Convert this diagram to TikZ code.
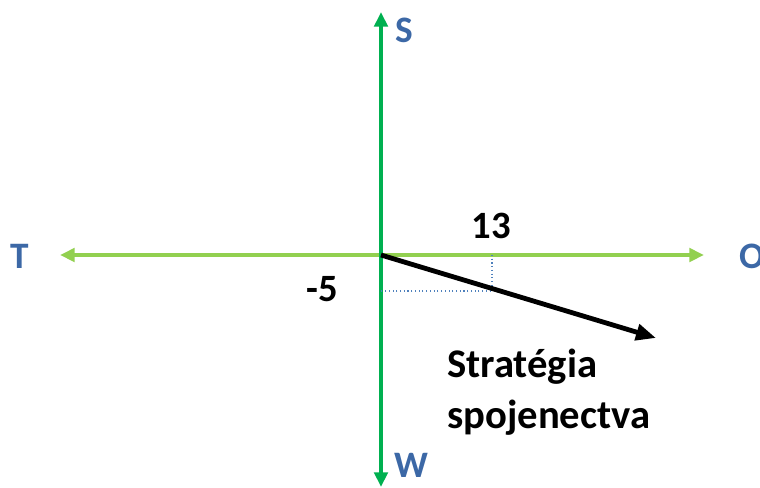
\documentclass[tikz,border=0pt]{standalone}
\usepackage{fontspec}
\setmainfont{Carlito}
\usetikzlibrary{arrows.meta, positioning}
\definecolor{axgreen}{HTML}{00B050}
\definecolor{axlime}{HTML}{92D050}
\definecolor{axlabel}{HTML}{3C68A6}
\definecolor{projblue}{HTML}{4F81BD}
\tikzset{
  axisv/.style     = {draw=axgreen, line width=3pt,
                      {Triangle[length=11pt, width=10pt]}-{Triangle[length=11pt, width=10pt]}},
  axish/.style     = {draw=axlime, line width=3pt,
                      {Triangle[length=11pt, width=10pt]}-{Triangle[length=11pt, width=10pt]}},
  axlab/.style     = {font=\fontsize{28}{32}\selectfont\bfseries, text=axlabel, inner sep=0pt},
  numlab/.style    = {font=\fontsize{29}{32}\selectfont\bfseries, inner sep=0pt},
  stratarrow/.style= {draw=black, line width=3.6pt, -{Triangle[length=15pt, width=12pt]}},
  projline/.style  = {draw=projblue, line width=0.8pt, dotted},
  stratlab/.style  = {font=\fontsize{30.5}{38}\selectfont\bfseries, align=left, inner sep=0pt},
}
\begin{document}
\begin{tikzpicture}[x=0.75pt, y=-0.75pt]
  \useasboundingbox (0,0) rectangle (760,487);
  % axes
  \coordinate (top) at (381,12);
  \coordinate (bot) at (381,487);
  \coordinate (lft) at (60,255);
  \coordinate (rgt) at (704,255);
  \coordinate (orig) at (381,255);
  \draw[axish] (lft) -- (rgt);
  \draw[axisv] (bot) -- (top);
  \node[axlab] (labS) at (404,30) {S};
  \node[axlab] (labT) at (20,256) {T};
  \node[axlab] (labO) at (752,256) {O};
  \node[axlab] (labW) at (411,465) {W};
  % projections
  \coordinate (px) at (492,255);
  \coordinate (pp) at (492,291);
  \coordinate (py) at (381,291);
  \draw[projline] (px) -- (pp) -- (py);
  % strategy vector
  \coordinate (tip) at (656,338);
  \draw[stratarrow] (orig) -- (tip);
  \node[numlab] (n13) at (491,226) {13};
  \node[numlab] (n5) at (322,289) {-5};
  \node[stratlab, anchor=north west] (strat) at (447,349) {Stratégia\\spojenectva};
\end{tikzpicture}
\end{document}
